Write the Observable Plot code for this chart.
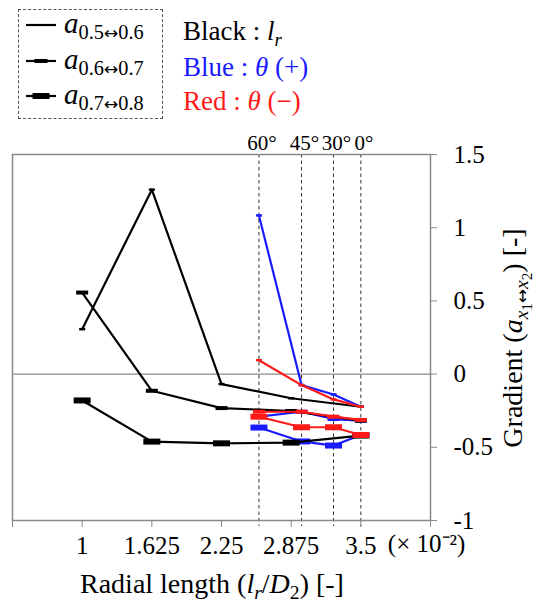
<!DOCTYPE html>
<html>
<head>
<meta charset="utf-8">
<script src="https://cdn.jsdelivr.net/npm/d3@7"></script>
<script src="https://cdn.jsdelivr.net/npm/@observablehq/plot@0.6"></script>
<style>
  html, body { margin: 0; padding: 0; background: #fff; }
  #wrap { position: relative; width: 537px; height: 607px; font-family: "Liberation Serif", "DejaVu Serif", serif; overflow: hidden; }
  #chart { position: absolute; left: 0; top: 0; }
  .abs { position: absolute; white-space: nowrap; }
  sub { font-size: 0.7em; vertical-align: -0.3em; line-height: 0; }
  sub sub { font-size: 0.78em; vertical-align: -0.25em; }
  .arr { font-family: "DejaVu Sans", sans-serif; font-size: 0.85em; }
</style>
</head>
<body>
<div id="wrap">
  <div id="chart"></div>
</div>
<script>
// ---- data ----
const xLr = [1, 1.625, 2.25, 2.875, 3.5];
const xTheta = [2.586, 2.968, 3.255, 3.5];
const angleLabels = ["60°", "45°", "30°", "0°"];
const pairLabels = ["0.5↔0.6", "0.6↔0.7", "0.7↔0.8"];
const xTickValues = [0.375, 1, 1.625, 2.25, 2.875, 3.5, 4.125];
const xTickLabels = ["", "1", "1.625", "2.25", "2.875", "3.5", ""];
const yTickValues = [-1, -0.5, 0, 0.5, 1, 1.5];
const xUnit = "(× 10⁻²)";

// black : l_r
const lr56 = [0.307, 1.26, -0.068, -0.165, -0.223];
const lr67 = [0.557, -0.114, -0.232, -0.252, -0.318];
const lr78 = [-0.18, -0.461, -0.473, -0.468, -0.42];
// blue : theta (+)
const tp56 = [1.084, -0.075, -0.139, -0.223];
const tp67 = [-0.29, -0.257, -0.307, -0.318];
const tp78 = [-0.365, -0.46, -0.488, -0.416];
// red : theta (-)
const tm56 = [0.095, -0.075, -0.173, -0.223];
const tm67 = [-0.257, -0.257, -0.291, -0.313];
const tm78 = [-0.291, -0.363, -0.363, -0.416];

const colorKeys = ["Black", "Blue", "Red"];
const colorValues = ["#000000", "#1a1aff", "#ff1a1a"];

// ---- build tables ----
function rows(xs, ys, group, pair) { return xs.map((x, i) => ({x, y: ys[i], group, pair})); }
const series = [
  {group: "Blue", sets: [tp56, tp67, tp78], xs: xTheta},
  {group: "Black", sets: [lr56, lr67, lr78], xs: xLr},
  {group: "Red", sets: [tm56, tm67, tm78], xs: xTheta}
];
const barSize = [[6, 2.5], [12, 4], [17, 6]];
const bar = (w, h) => ({draw(ctx) { ctx.rect(-w / 2, -h / 2, w, h); }});

const dataMarks = [];
for (const s of series) {
  const color = colorValues[colorKeys.indexOf(s.group)];
  s.sets.forEach((ys, p) => {
    const d = rows(s.xs, ys, s.group, p);
    dataMarks.push(Plot.line(d, {x: "x", y: "y", stroke: color, strokeWidth: 2.2}));
    dataMarks.push(Plot.dot(d, {x: "x", y: "y", fill: color, stroke: "none", symbol: bar(...barSize[p])}));
  });
}

const plot = Plot.plot({
  width: 537,
  height: 607,
  marginTop: 154,
  marginBottom: 87,
  marginLeft: 12,
  marginRight: 107,
  style: {fontFamily: "Liberation Serif, serif", background: "transparent", overflow: "visible"},
  x: {domain: [0.375, 4.125]},
  y: {domain: [-1, 1.5]},
  marks: [
    Plot.ruleX(xTheta, {stroke: "#333", strokeWidth: 1, strokeDasharray: "3.5,3", insetBottom: -6}),
    Plot.ruleY([0], {stroke: "#8a8a8a", strokeWidth: 1.3}),
    Plot.frame({stroke: "#8a8a8a", strokeWidth: 1.5}),
    Plot.axisX({ticks: xTickValues, tickFormat: (d, i) => xTickLabels[xTickValues.indexOf(d)], tickSize: 7, tickPadding: 9, fontSize: 25, stroke: "#8a8a8a", fill: "#000", label: null}),
    Plot.axisY({anchor: "right", ticks: yTickValues, tickFormat: d => String(d), tickSize: 6, tickPadding: 17, textAnchor: "start", fontSize: 25, stroke: "#8a8a8a", fill: "#000", label: null}),
    Plot.text(angleLabels, {x: xTheta, frameAnchor: "top", text: d => d, dy: -19, dx: 3, fontSize: 21, fill: "#000"}),
    Plot.text([xUnit], {x: [3.5], frameAnchor: "bottom", text: d => d, textAnchor: "start", dx: 27, dy: 31, fontSize: 25, fill: "#000"}),
    ...dataMarks
  ]
});
document.getElementById("chart").appendChild(plot);

// ---- overlays: legends and axis titles ----
const wrap = document.getElementById("wrap");
function addDiv(html, style) {
  const d = document.createElement("div");
  d.className = "abs";
  d.innerHTML = html;
  Object.assign(d.style, style);
  wrap.appendChild(d);
  return d;
}
const withArrow = s => s.replace("↔", '<span class="arr">↔</span>');
// dashed legend box
addDiv("", {left: "18px", top: "9px", width: "143px", height: "108px", border: "1.3px dashed #555"});
pairLabels.forEach((lab, i) => {
  const cy = [25, 61, 96][i];
  const [w, h] = [[10, 2], [13, 4], [17, 6]][i];
  addDiv(`<svg width="34" height="10"><line x1="2" x2="32" y1="5" y2="5" stroke="#000" stroke-width="2.2"/><rect x="${17 - w / 2}" y="${5 - h / 2}" width="${w}" height="${h}" fill="#000"/></svg>`,
    {left: "24px", top: (cy - 5) + "px", lineHeight: "0"});
  addDiv(`<i>a</i><sub>${withArrow(lab)}</sub>`, {left: "64px", top: (cy - 19) + "px", fontSize: "29px", lineHeight: "34px", color: "#000"});
});
const keyText = [
  `Black : <i>l</i><sub><i>r</i></sub>`,
  `Blue : <i>θ</i> (+)`,
  `Red : <i>θ</i> (−)`
];
colorKeys.forEach((k, i) => {
  const cy = [31, 67, 101][i];
  addDiv(keyText[i], {left: "183px", top: (cy - 17) + "px", fontSize: "27px", lineHeight: "34px", color: colorValues[i]});
});
// x-axis title
addDiv(`Radial length (<i>l</i><sub><i>r</i></sub>/<i>D</i><sub>2</sub>) [-]`,
  {left: "80px", top: "567px", fontSize: "28px", lineHeight: "34px", color: "#000"});
// y-axis title (rotated)
addDiv(`Gradient (<i>a</i><sub><i>x</i><sub>1</sub><span class="arr">↔</span><i>x</i><sub>2</sub></sub>) [-]`,
  {left: "513px", top: "338px", fontSize: "28px", lineHeight: "34px", color: "#000", transform: "translate(-50%,-50%) rotate(-90deg)"});
</script>
</body>
</html>
